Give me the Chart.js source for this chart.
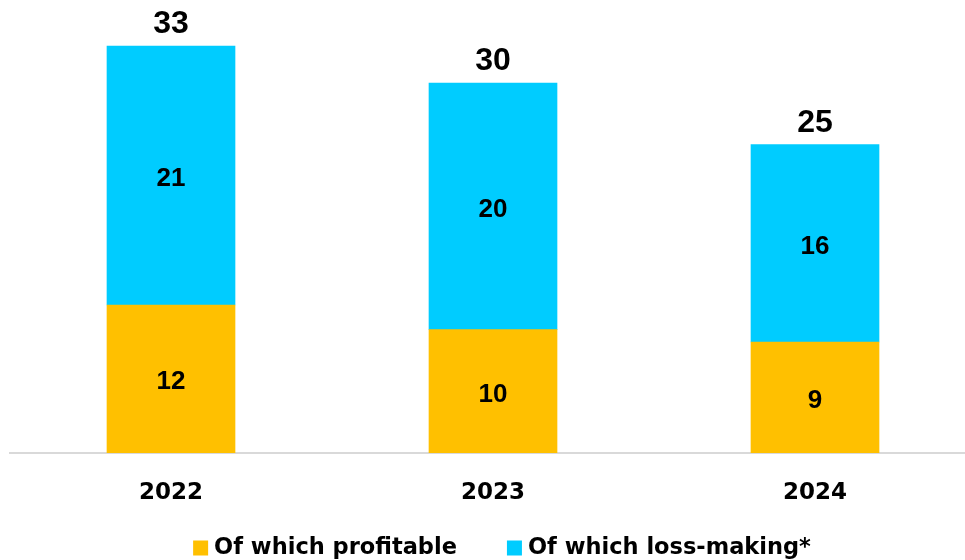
<!DOCTYPE html>
<html>
<head>
<meta charset="utf-8">
<script src="https://cdn.jsdelivr.net/npm/chart.js@4"></script>
<style>
  html, body { margin: 0; padding: 0; background: #fff; overflow: hidden; }
  #wrap { width: 976px; height: 560px; }
</style>
</head>
<body>
<div id="wrap"><canvas id="companiesChart" width="976" height="560"></canvas></div>
<script>
const years = ['2022', '2023', '2024'];
const profitable = [12, 10, 9];
const lossMaking = [21, 20, 16];
const seriesNames = ['Of which profitable', 'Of which loss-making*'];
const seriesColors = ['#FFC000', '#00CCFF'];

// segment values inside bars, totals above each stack
const barLabels = {
    id: 'barLabels',
    afterDatasetsDraw(chart) {
        const ctx = chart.ctx;
        ctx.save();
        ctx.fillStyle = '#000';
        ctx.textAlign = 'center';
        ctx.textBaseline = 'middle';
        ctx.font = 'bold 26px "Liberation Sans", Arial, sans-serif';
        chart.data.datasets.forEach((ds, i) => {
            chart.getDatasetMeta(i).data.forEach((bar, j) => {
                const mid = (bar.y + bar.base) / 2;
                ctx.fillText(ds.data[j], bar.x, mid + 3);
            });
        });
        ctx.font = 'bold 32px "Liberation Sans", Arial, sans-serif';
        ctx.textBaseline = 'alphabetic';
        const top = chart.getDatasetMeta(chart.data.datasets.length - 1).data;
        years.forEach((y, j) => {
            const total = profitable[j] + lossMaking[j];
            ctx.fillText(total, top[j].x, top[j].y - 13);
        });
        ctx.restore();
    }
};

// legend drawn along the bottom edge
const bottomLegend = {
    id: 'bottomLegend',
    afterDraw(chart) {
        const ctx = chart.ctx;
        ctx.save();
        ctx.font = 'bold 22.5px "DejaVu Sans", sans-serif';
        ctx.textBaseline = 'middle';
        ctx.textAlign = 'left';
        const box = 15, gapText = 6, gapItem = 50, y = 548;
        const widths = seriesNames.map(n => box + gapText + ctx.measureText(n).width);
        const total = widths.reduce((a, b) => a + b, 0) + gapItem;
        let x = 502 - total / 2;
        seriesNames.forEach((name, i) => {
            ctx.fillStyle = seriesColors[i];
            ctx.fillRect(x, y - box / 2, box, box);
            ctx.fillStyle = '#000';
            ctx.fillText(name, x + box + gapText, y);
            x += widths[i] + gapItem;
        });
        ctx.restore();
    }
};

new Chart(document.getElementById('companiesChart'), {
    type: 'bar',
    data: {
        labels: years,
        datasets: [
            { label: seriesNames[0], data: profitable, backgroundColor: seriesColors[0] },
            { label: seriesNames[1], data: lossMaking, backgroundColor: seriesColors[1] }
        ]
    },
    options: {
        responsive: false,
        animation: false,
        events: [],
        layout: { padding: { top: 9, left: 10, right: 0, bottom: 0 } },
        datasets: { bar: { barThickness: 128, borderWidth: 0 } },
        plugins: { legend: { display: false }, tooltip: { enabled: false } },
        scales: {
            x: {
                stacked: true,
                grid: { display: false, drawTicks: false },
                border: { display: true, color: '#D9D9D9', width: 2 },
                ticks: {
                    color: '#000',
                    padding: 26,
                    font: { family: '"DejaVu Sans", sans-serif', size: 23, weight: 'bold' }
                },
                afterFit(scale) { scale.height = 107; }
            },
            y: { stacked: true, display: false, min: 0, max: 36 }
        }
    },
    plugins: [barLabels, bottomLegend]
});
</script>
</body>
</html>
